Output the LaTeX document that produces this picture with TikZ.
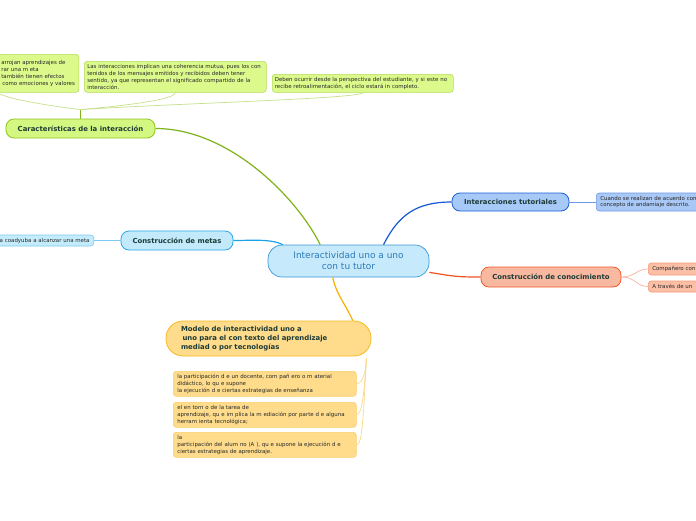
\documentclass[tikz,border=0pt]{standalone}
\usepackage{fontspec}
\setmainfont{DejaVu Sans}
\usetikzlibrary{calc}
\definecolor{tdark}{HTML}{1D3A36}
\definecolor{gFill}{HTML}{D4F782}
\definecolor{gLine}{HTML}{8FC31F}
\definecolor{gCon}{HTML}{7FB31A}
\definecolor{lgFill}{HTML}{DCFA8C}
\definecolor{lgLine}{HTML}{B5DB5B}
\definecolor{lgCon}{HTML}{C6E08A}
\definecolor{cFill}{HTML}{C6EAFB}
\definecolor{cLine}{HTML}{3A97D6}
\definecolor{cText}{HTML}{2B7AB8}
\definecolor{bFill}{HTML}{C2EAFB}
\definecolor{bLine}{HTML}{2AA6E4}
\definecolor{bCon}{HTML}{1EA2E6}
\definecolor{lbFill}{HTML}{C5ECFC}
\definecolor{lbLine}{HTML}{7CCBF0}
\definecolor{tFill}{HTML}{A7C9F7}
\definecolor{tLine}{HTML}{1C5FD6}
\definecolor{tCon}{HTML}{1359D3}
\definecolor{ltFill}{HTML}{A9C8F5}
\definecolor{ltLine}{HTML}{6D9AE6}
\definecolor{oFill}{HTML}{F9B8A0}
\definecolor{oLine}{HTML}{F25A2A}
\definecolor{oCon}{HTML}{F0521F}
\definecolor{loFill}{HTML}{FBBFA6}
\definecolor{loLine}{HTML}{F39A78}
\definecolor{loCon}{HTML}{F7B5A0}
\definecolor{yFill}{HTML}{FEDC8C}
\definecolor{yLine}{HTML}{F8B921}
\definecolor{yCon}{HTML}{F7B000}
\definecolor{lyLine}{HTML}{F9CF6A}
\definecolor{lyCon}{HTML}{FBD98A}
\begin{document}
\begin{tikzpicture}[x=1pt,y=-1pt,
  leaf/.style={draw, rounded corners=3pt, line width=0.6pt, inner xsep=4pt, inner ysep=0pt,
    align=left, font=\fontsize{5.45}{6.8}\selectfont, text=black!85},
  topic/.style={draw, rounded corners=8pt, line width=0.8pt, inner sep=0pt,
    font=\fontsize{6.9}{8.7}\selectfont\bfseries, text=tdark},
  maincon/.style={line width=1.2pt},
  subcon/.style={line width=0.7pt}]
\fill[white] (0,0) rectangle (696,520);
\clip (0,0) rectangle (696,520);

% central
\node[draw=cLine, fill=cFill, rounded corners=14pt, minimum width=161, minimum height=32,
  align=center, text=cText, font=\fontsize{9}{11}\selectfont, line width=0.7pt, inner sep=0pt]
  (c) at (348.5,261) {Interactividad uno a uno\\con tu tutor};

% Caracteristicas
\node[topic, fill=gFill, draw=gLine, minimum width=149, minimum height=19] (car) at (80.5,128.5)
  {Características de la interacción};
\node[leaf, fill=lgFill, draw=lgLine, minimum height=38, anchor=north west] (ta) at (-3,54)
  {arrojan aprendizajes de\\rar una m eta\\también tienen efectos\\\hspace{1pt}como emociones y valores};
\node[leaf, fill=lgFill, draw=lgLine, inner xsep=3pt, text width=176, minimum height=31, anchor=north west] (tb) at (84,61)
  {Las interacciones implican una coherencia mutua, pues los con\\tenidos de los mensajes emitidos y recibidos deben tener\\sentido, ya que representan el significado compartido de la\\interacción.};
\node[leaf, fill=lgFill, draw=lgLine, inner xsep=2.5pt, text width=176, minimum height=18, anchor=north west] (tc) at (272,74)
  {Deben ocurrir desde la perspectiva del estudiante, y si este no\\recibe retroalimentación, el ciclo estará in completo.};
\coordinate (j) at ($(car.north)+(0,-9)$);
\draw[gCon, line width=0.8pt] (car.north) -- (j);
\draw[lgCon, subcon] (ta.south west) .. controls +(10,6) and +(-40,-5) .. (j);
\draw[lgCon, subcon] (tb.south) .. controls +(0,7) and +(45,-4) .. (j);
\draw[lgCon, subcon] (tc.south) .. controls +(0,6) and +(90,-6) .. (j);
\draw[gCon, maincon] (car.east) .. controls +(75,0) and +(-22,-45) .. (c.150);

% Construccion de metas
\node[topic, fill=bFill, draw=bLine, minimum width=112, minimum height=19] (met) at (177,240.5)
  {Construcción de metas};
\node[leaf, fill=lbFill, draw=lbLine, text width=90, minimum height=11, anchor=east] (ml) at (94,240.5)
  {a coadyuba a alcanzar una meta};
\draw[lbLine, subcon] (ml.east) -- (met.west);
\draw[bCon, maincon] (met.east) .. controls +(18,0) and +(-12,-6) .. (c.166);

% Interacciones tutoriales
\node[topic, fill=tFill, draw=tLine, minimum width=117, minimum height=18] (tut) at (510.5,202)
  {Interacciones tutoriales};
\node[leaf, fill=ltFill, draw=ltLine, text width=130, minimum height=18, anchor=west] (tl) at (596,202)
  {Cuando se realizan de acuerdo con\\concepto de andamiaje descrito.};
\draw[ltLine, subcon] (tut.east) -- (tl.west);
\draw[tCon, maincon] (c.25) .. controls +(15,-30) and +(-35,0) .. (tut.west);

% Construccion de conocimiento
\node[topic, fill=oFill, draw=oLine, minimum width=140, minimum height=20] (con) at (551,277)
  {Construcción de conocimiento};
\node[leaf, fill=loFill, draw=loLine, text width=80, minimum height=12, anchor=west] (k1) at (648,269)
  {Compañero con};
\node[leaf, fill=loFill, draw=loLine, text width=80, minimum height=11, anchor=west] (k2) at (648,286.5)
  {A través de un};
\draw[loCon, subcon] (con.east) .. controls +(14,0) and +(-12,0) .. (k1.west);
\draw[loCon, subcon] (con.east) .. controls +(14,0) and +(-12,0) .. (k2.west);
\draw[oCon, maincon] (c.-8) .. controls +(25,4) and +(-25,0) .. (con.west);

% Modelo
\node[topic, fill=yFill, draw=yLine, rounded corners=17pt, inner xsep=15pt, text width=175,
  minimum height=35, align=left] (mod) at (268.5,338.5)
  {Modelo de interactividad uno a\\\hspace{1.5pt}uno para el con texto del aprendizaje\\mediad o por tecnologías};
\node[leaf, fill=yFill, draw=lyLine, text width=175, minimum height=25, anchor=north west] (y1) at (173,371)
  {la participación d e un docente, com pañ ero o m aterial\\didáctico, lo qu e supone\\la ejecución d e ciertas estrategias de enseñanza};
\node[leaf, fill=yFill, draw=lyLine, text width=175, minimum height=25, anchor=north west] (y2) at (173,402)
  {el en torn o de la tarea de\\aprendizaje, qu e im plica la m ediación por parte d e alguna\\herram ienta tecnológica;};
\node[leaf, fill=yFill, draw=lyLine, text width=175, minimum height=25, anchor=north west] (y3) at (173,432)
  {la\\participación del alum no (A ), qu e supone la ejecución d e\\ciertas estrategias de aprendizaje.};
\coordinate (mj) at ($(mod.south east)+(-5,2)$);
\draw[lyCon, subcon] (mj) .. controls +(0,12) and +(6,0) .. (y1.east);
\draw[lyCon, subcon] (mj) .. controls +(-2,30) and +(6,0) .. (y2.east);
\draw[lyCon, subcon] (mj) .. controls +(-3,55) and +(6,0) .. (y3.east);
\draw[yCon, maincon] (c.-134) .. controls +(4,18) and +(-8,-18) .. (mod.12);
\end{tikzpicture}
\end{document}
